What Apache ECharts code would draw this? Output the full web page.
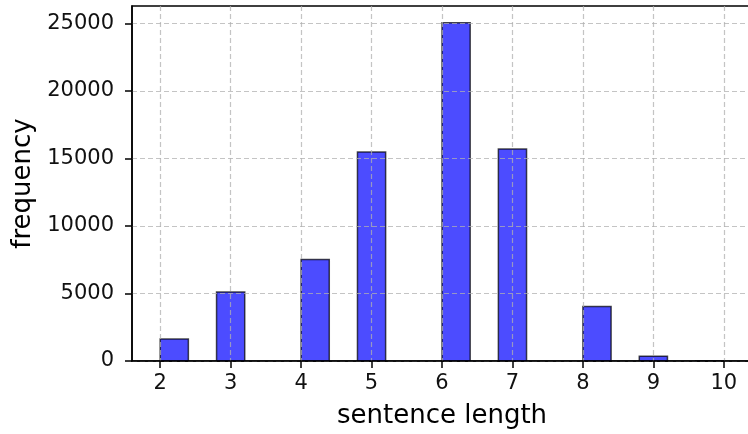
<!DOCTYPE html>
<html>
<head>
<meta charset="utf-8">
<script src="https://cdn.jsdelivr.net/npm/echarts@6/dist/echarts.min.js"></script>
<style>
  html, body { margin: 0; padding: 0; background: #fff; }
  #chart { width: 748px; height: 434px; }
</style>
</head>
<body>
<div id="chart"></div>
<script>
// Sentence-length histogram: one bin per observed length
const sentenceLengths = [2, 3, 4, 5, 6, 7, 8, 9, 10];
const frequencies = [1630, 5120, 7520, 15480, 25050, 15700, 4040, 360, 12];
// Left edge of the histogram bin each length falls into, and the common bin width
const binStarts = [2.0, 2.8, 4.0, 4.8, 6.0, 6.8, 8.0, 8.8, 9.6];
const binWidth = 0.4;
const xTicks = [2, 3, 4, 5, 6, 7, 8, 9, 10];
const yTicks = [0, 5000, 10000, 15000, 20000, 25000];

const FONT = 'DejaVu Sans';
const binData = binStarts.map((s, i) => [s, s + binWidth, frequencies[i], sentenceLengths[i]]);

const gridLine = { show: true, lineStyle: { color: 'rgba(176,176,176,0.75)', width: 1.2, type: [5, 3] } };
const plain = v => String(v);

const chart = echarts.init(document.getElementById('chart'), null, { renderer: 'canvas' });
chart.setOption({
  animation: false,
  backgroundColor: '#fff',
  grid: {
    left: 132, top: 6, right: -4, bottom: 73,
    containLabel: false, outerBoundsMode: 'none',
    show: true, borderColor: '#000', borderWidth: 1.5, backgroundColor: 'transparent'
  },
  xAxis: {
    type: 'value', min: 1.6, max: 10.4, z: 5,
    name: 'sentence length', nameLocation: 'middle', nameGap: 42,
    nameTextStyle: { fontFamily: FONT, fontSize: 26, color: '#000' },
    axisLine: { show: true, onZero: false, lineStyle: { color: '#000', width: 1.5 } },
    axisTick: { show: true, length: 7, customValues: xTicks, lineStyle: { color: '#000', width: 1.5 } },
    axisLabel: { customValues: xTicks, formatter: plain, margin: 12, fontFamily: FONT, fontSize: 21, color: '#111' },
    splitLine: gridLine
  },
  yAxis: {
    type: 'value', min: 0, max: 26300, z: 5,
    name: 'frequency', nameLocation: 'middle', nameGap: 91,
    nameTextStyle: { fontFamily: FONT, fontSize: 26, color: '#000' },
    axisLine: { show: true, lineStyle: { color: '#000', width: 1.5 } },
    axisTick: { show: true, length: 7, customValues: yTicks, lineStyle: { color: '#000', width: 1.5 } },
    axisLabel: { customValues: yTicks, formatter: plain, margin: 18, fontFamily: FONT, fontSize: 21, color: '#111' },
    splitLine: gridLine
  },
  series: [{
    type: 'custom',
    z: 2,
    data: binData,
    encode: { x: [0, 1], y: 2 },
    renderItem: function (params, api) {
      const topLeft = api.coord([api.value(0), api.value(2)]);
      const bottomRight = api.coord([api.value(1), 0]);
      return {
        type: 'rect',
        shape: {
          x: topLeft[0], y: topLeft[1],
          width: bottomRight[0] - topLeft[0],
          height: bottomRight[1] - topLeft[1]
        },
        style: { fill: 'rgba(0,0,255,0.7)', stroke: 'rgba(0,0,0,0.7)', lineWidth: 1.5 }
      };
    }
  }]
});
</script>
</body>
</html>
